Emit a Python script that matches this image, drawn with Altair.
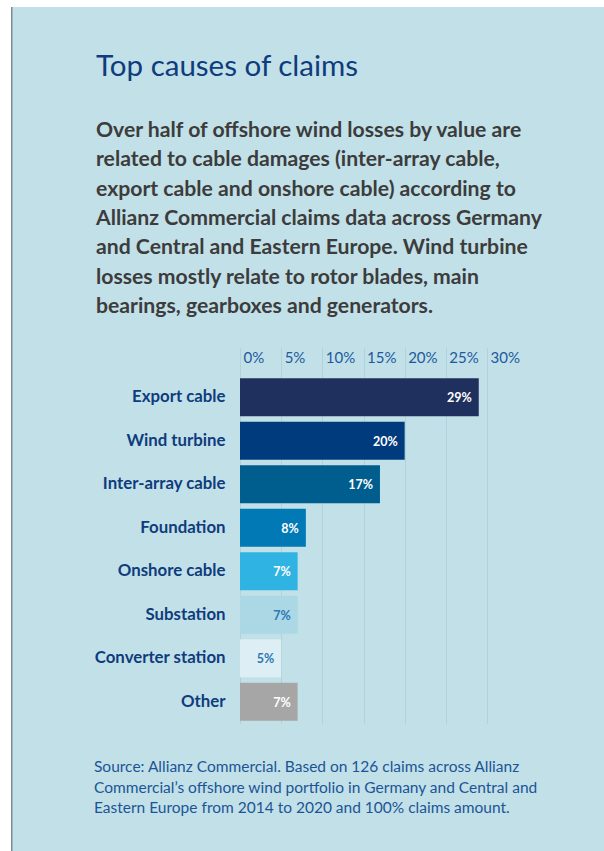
import altair as alt
import pandas as pd

# ---- data ----
causes = ["Export cable", "Wind turbine", "Inter-array cable", "Foundation",
          "Onshore cable", "Substation", "Converter station", "Other"]
shares = [29, 20, 17, 8, 7, 7, 5, 7]
bar_colors = ["#20305E", "#003B7E", "#005E8F", "#0079B4",
              "#2FB3E3", "#ABD8E4", "#DDEFF4", "#A6A6A6"]
label_colors = ["#FFFFFF", "#FFFFFF", "#FFFFFF", "#FFFFFF",
                "#FFFFFF", "#2A78B5", "#2A78B5", "#FFFFFF"]
x_ticks = [0, 5, 10, 15, 20, 25, 30]

title_text = "Top causes of claims"
subtitle_lines = [
    "Over half of offshore wind losses by value are",
    "related to cable damages (inter-array cable,",
    "export cable and onshore cable) according to",
    "Allianz Commercial claims data across Germany",
    "and Central and Eastern Europe. Wind turbine",
    "losses mostly relate to rotor blades, main",
    "bearings, gearboxes and generators.",
]
source_lines = [
    "Source: Allianz Commercial. Based on 126 claims across Allianz",
    "Commercial\u2019s offshore wind portfolio in Germany and Central and",
    "Eastern Europe from 2014 to 2020 and 100% claims amount.",
]

df = pd.DataFrame({
    "cause": causes,
    "share": shares,
    "label": [f"{v}%" for v in shares],
    "lcolor": label_colors,
})

BG = "#C2E0E8"
W, H = 247, 348
PL, PT = 240, 375.5

y_enc = alt.Y("cause:N", sort=causes, title=None,
              scale=alt.Scale(paddingInner=0.13, paddingOuter=0.065),
              axis=alt.Axis(labelFont="Lato", labelFontSize=16.8, labelFontWeight="bold",
                            labelColor="#0E3C7C", labelPadding=15, ticks=False,
                            domain=False, grid=False))
x_enc = alt.X("share:Q", title=None,
              scale=alt.Scale(domain=[0, 30], nice=False),
              axis=alt.Axis(orient="top", values=x_ticks, labelExpr="datum.value + '%'",
                            labelFont="Lato", labelFontSize=15, labelColor="#1C5A9E",
                            labelAlign="left", labelOffset=3, labelBaseline="alphabetic",
                            ticks=True, tickSize=28, tickColor="#AFD2DC", tickWidth=1,
                            labelPadding=-14.5, domain=False,
                            grid=True, gridColor="#AFD2DC", gridWidth=1))

bars = alt.Chart(df).mark_bar(cornerRadius=0).encode(
    x=x_enc,
    y=y_enc,
    color=alt.Color("cause:N", scale=alt.Scale(domain=causes, range=bar_colors), legend=None),
)

labels = alt.Chart(df).mark_text(align="right", baseline="middle", dx=-7, dy=1,
                                 font="Lato", fontSize=12.5, fontWeight="bold").encode(
    x=alt.X("share:Q"),
    y=alt.Y("cause:N", sort=causes),
    text="label:N",
    color=alt.Color("lcolor:N", scale=None),
)

src = alt.Chart(pd.DataFrame({"k": [0]})).mark_text(
    text=source_lines, align="left", baseline="alphabetic", lineHeight=20.5,
    font="Lato", fontSize=15.5, color="#1B5596"
).encode(x=alt.value(94 - PL), y=alt.value(772 - PT))

# screenshot margin (white strip + thin grey line) at left and top
edge = pd.DataFrame({"k": [0]})
white_left = alt.Chart(edge).mark_rect(color="#FFFFFF").encode(
    x=alt.value(-PL), x2=alt.value(11 - PL), y=alt.value(-PT), y2=alt.value(851 - PT))
white_top = alt.Chart(edge).mark_rect(color="#FFFFFF").encode(
    x=alt.value(-PL), x2=alt.value(604 - PL), y=alt.value(-PT), y2=alt.value(7 - PT))
grey_line = alt.Chart(edge).mark_rect(color="#7D8C96").encode(
    x=alt.value(11 - PL), x2=alt.value(12.5 - PL), y=alt.value(7 - PT), y2=alt.value(851 - PT))

chart = alt.layer(white_left, white_top, grey_line, bars, labels, src).properties(
    width=W, height=H,
    title=alt.TitleParams(
        text=title_text, subtitle=subtitle_lines,
        anchor="start", frame="bounds", orient="top",
        font="Lato", fontSize=29.5, fontWeight="normal", color="#0E3C7C",
        subtitleFont="Lato", subtitleFontSize=21.2, subtitleFontWeight="bold",
        subtitleColor="#3C3C3C", subtitleLineHeight=29.3, subtitlePadding=38,
        offset=0, dx=96, dy=318,
    ),
    autosize=alt.AutoSizeParams(type="none"),
    padding={"left": PL, "top": PT, "right": 604 - PL - W, "bottom": 851 - PT - H},
).configure(background=BG).configure_view(stroke=None)

chart.save("out.html", embed_options={"renderer": "svg", "actions": False})
